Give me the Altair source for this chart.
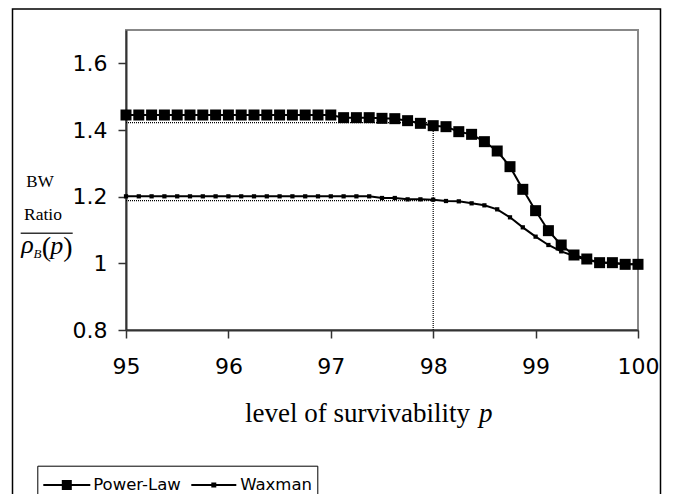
import altair as alt
import pandas as pd

survivability = [95.0, 95.125, 95.25, 95.375, 95.5, 95.625, 95.75, 95.875,
                 96.0, 96.125, 96.25, 96.375, 96.5, 96.625, 96.75, 96.875,
                 97.0, 97.125, 97.25, 97.375, 97.5, 97.625, 97.75, 97.875,
                 98.0, 98.125, 98.25, 98.375, 98.5, 98.625, 98.75, 98.875,
                 99.0, 99.125, 99.25, 99.375, 99.5, 99.625, 99.75, 99.875, 100.0]
power_law = [1.445, 1.445, 1.445, 1.445, 1.445, 1.445, 1.445, 1.445,
             1.445, 1.445, 1.445, 1.445, 1.445, 1.445, 1.445, 1.445,
             1.445, 1.437, 1.437, 1.437, 1.435, 1.434, 1.428, 1.420,
             1.413, 1.410, 1.395, 1.387, 1.365, 1.337, 1.290, 1.222,
             1.158, 1.098, 1.055, 1.025, 1.013, 1.002, 1.002, 0.997, 0.997]
waxman = [1.201, 1.201, 1.201, 1.201, 1.201, 1.201, 1.201, 1.201,
          1.201, 1.201, 1.201, 1.201, 1.201, 1.201, 1.201, 1.201,
          1.201, 1.201, 1.201, 1.201, 1.196, 1.196, 1.192, 1.192,
          1.191, 1.187, 1.186, 1.180, 1.174, 1.162, 1.138, 1.108,
          1.080, 1.055, 1.036, 1.022, 1.010, 1.003, 1.000, 0.998, 0.997]
series_names = ["Power-Law", "Waxman"]

x_ticks = [95, 96, 97, 98, 99, 100]
y_ticks = [0.8, 1.0, 1.2, 1.4, 1.6]

ref_p = 98.0
ref_power = 1.422
ref_waxman = 1.188

rows = []
for xv, pv, wv in zip(survivability, power_law, waxman):
    rows.append({"p": xv, "ratio": pv, "series": series_names[0]})
    rows.append({"p": xv, "ratio": wv, "series": series_names[1]})
df = pd.DataFrame(rows)

refs = pd.DataFrame({
    "x": [survivability[0], survivability[0], ref_p],
    "x2": [ref_p, ref_p, ref_p],
    "y": [ref_power, ref_waxman, y_ticks[0]],
    "y2": [ref_power, ref_waxman, ref_power],
})

xscale = alt.Scale(domain=[95, 100], nice=False, zero=False)
yscale = alt.Scale(domain=[0.8, 1.7], nice=False, zero=False)

xaxis = alt.Axis(values=x_ticks, title=None, grid=False, labelFont="DejaVu Sans",
                 labelFontSize=22, labelColor="black", tickSize=8, labelPadding=18,
                 domainColor="#333333", domainWidth=2, tickColor="#333333", tickWidth=1.5,
                 labelFlush=False)
yaxis = alt.Axis(values=y_ticks, title=None, grid=False, labelFont="DejaVu Sans",
                 labelFontSize=22, labelColor="black", tickSize=8, labelPadding=11,
                 domainColor="#333333", domainWidth=2, tickColor="#333333", tickWidth=1.5,
                 format="~g")

base = alt.Chart(df)

ref_rules = alt.Chart(refs).mark_rule(color="black", strokeWidth=1.2, strokeDash=[1, 1]).encode(
    x=alt.X("x:Q", scale=xscale, axis=xaxis),
    x2="x2:Q",
    y=alt.Y("y:Q", scale=yscale, axis=yaxis),
    y2="y2:Q",
)

lines = base.mark_line(color="black", strokeWidth=2).encode(
    x=alt.X("p:Q", scale=xscale, axis=xaxis),
    y=alt.Y("ratio:Q", scale=yscale, axis=yaxis),
    detail="series:N",
)

points_power = base.transform_filter(alt.datum.series == series_names[0]).mark_point(
    filled=True, shape="square", color="black", opacity=1, size=121).encode(
    x=alt.X("p:Q", scale=xscale, axis=xaxis),
    y=alt.Y("ratio:Q", scale=yscale, axis=yaxis),
)
points_waxman = base.transform_filter(alt.datum.series == series_names[1]).mark_point(
    filled=True, shape="square", color="black", opacity=1, size=18).encode(
    x=alt.X("p:Q", scale=xscale, axis=xaxis),
    y=alt.Y("ratio:Q", scale=yscale, axis=yaxis),
)

# legend symbols: a line through a marker (marker drawn as nested squares so the stroke fills it)
path_power = ("M-1.808,0H1.808"
              "M-0.308,-0.308H0.308V0.308H-0.308Z"
              "M-0.192,-0.192H0.192V0.192H-0.192Z"
              "M-0.077,-0.077H0.077V0.077H-0.077Z")
path_waxman = "M-1.731,0H1.731M-0.115,-0.115H0.115V0.115H-0.115Z"

legend_driver = base.mark_point(filled=False, color="black", opacity=0,
                                strokeWidth=2, size=676).encode(
    x=alt.X("p:Q", scale=xscale, axis=xaxis),
    y=alt.Y("ratio:Q", scale=yscale, axis=yaxis),
    shape=alt.Shape("series:N",
                    scale=alt.Scale(domain=series_names, range=[path_power, path_waxman]),
                    legend=alt.Legend(title=None, orient="none", legendX=-88.7, legendY=435.7,
                                      direction="horizontal", padding=5, strokeColor="black",
                                      fillColor="white", symbolSize=676, symbolStrokeWidth=2,
                                      symbolStrokeColor="black", symbolFillColor="black",
                                      symbolOpacity=1, symbolOffset=10.5, labelOffset=12.4,
                                      columnPadding=5, labelFont="DejaVu Sans",
                                      labelFontSize=16.5, labelColor="black")),
)

one = alt.Chart(pd.DataFrame({"k": [0]}))

def label(text, x, y, size, italic=False, align="center", baseline="middle"):
    return one.mark_text(text=text, font="Liberation Serif", fontSize=size,
                         fontStyle="italic" if italic else "normal", align=align,
                         baseline=baseline, color="black").encode(
        x=alt.value(x), y=alt.value(y))

t_bw = label("BW", -86, 152, 17)
t_ratio = label("Ratio", -83, 185, 17.5)
t_bar = one.mark_rule(color="#333333", strokeWidth=1.5).encode(
    x=alt.value(-105.3), x2=alt.value(-53.3), y=alt.value(203.3))
t_rho = label("ρ", -98.5, 223, 26, italic=True, baseline="alphabetic")
t_sub = label("B", -88.5, 228, 13, italic=True, baseline="alphabetic")
t_lp = label("(", -79.7, 226, 28, baseline="alphabetic")
t_pp = label("p", -69.3, 224, 26, italic=True, baseline="alphabetic")
t_rp = label(")", -58, 226, 28, baseline="alphabetic")

t_xtitle = label("level of survivability", 119, 391.7, 27, align="left", baseline="alphabetic")
t_xp = label("p", 353, 391.7, 27, italic=True, align="left", baseline="alphabetic")

frame = one.mark_rect(fillOpacity=0, stroke="black", strokeWidth=1.5).encode(
    x=alt.value(-113.5), x2=alt.value(534.5), y=alt.value(-21), y2=alt.value(480))

chart = alt.layer(
    ref_rules, lines, points_power, points_waxman, legend_driver,
    t_bw, t_ratio, t_bar, t_rho, t_sub, t_lp, t_pp, t_rp, t_xtitle, t_xp, frame,
).properties(
    width=512, height=300,
    padding={"left": 118, "top": 22, "right": 24, "bottom": 164},
    autosize=alt.AutoSizeParams(type="none"),
    background="white",
).configure_view(
    stroke="#888888", strokeWidth=2,
)

chart.save("out.html", embed_options={"renderer": "svg", "actions": False})
